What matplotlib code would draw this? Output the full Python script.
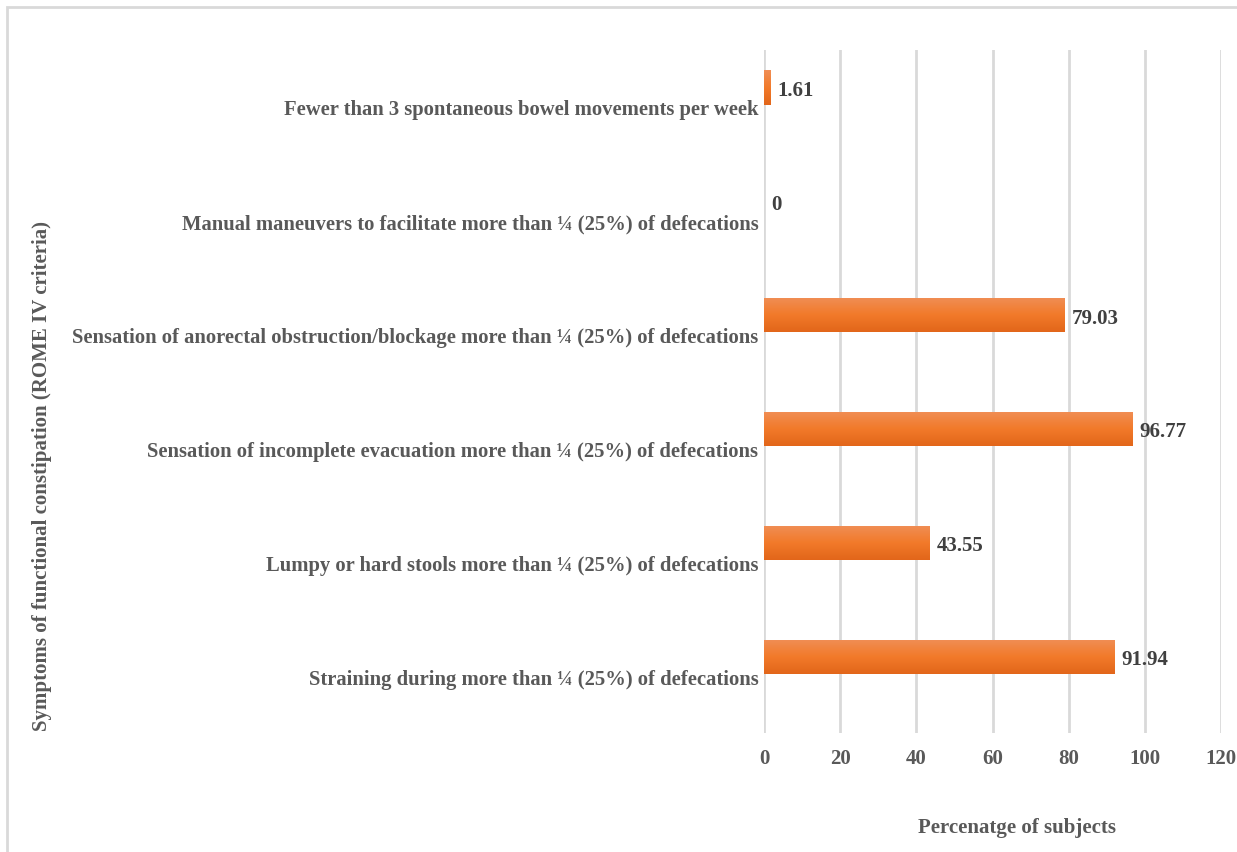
import matplotlib.pyplot as plt
import numpy as np
from matplotlib.patches import Rectangle
from matplotlib.colors import LinearSegmentedColormap

# data (bottom to top)
categories = [
    "Straining during more than ¼ (25%) of defecations",
    "Lumpy or hard stools more than ¼ (25%) of defecations",
    "Sensation of incomplete evacuation more than ¼ (25%) of defecations",
    "Sensation of anorectal obstruction/blockage more than ¼ (25%) of defecations",
    "Manual maneuvers to facilitate more than ¼ (25%) of defecations",
    "Fewer than 3 spontaneous bowel movements per week",
]
values = [91.94, 43.55, 96.77, 79.03, 0, 1.61]
value_labels = ["91.94", "43.55", "96.77", "79.03", "0", "1.61"]
x_ticks = [0, 20, 40, 60, 80, 100, 120]

plt.rcParams['font.family'] = ['Liberation Serif', 'DejaVu Serif']
plt.rcParams['font.weight'] = 'bold'

W, H = 1237, 853
fig = plt.figure(figsize=(W / 100, H / 100), dpi=100)
ax = fig.add_axes([764 / W, 1 - 734 / H, (1221 - 764) / W, (734 - 51) / H])

pos = np.arange(len(categories))
offset = 0.17
bars = ax.barh(pos + offset, values, height=0.30, color='#ED7D31', zorder=2)

# gradient fill on each bar
grad = np.linspace(0, 1, 64).reshape(-1, 1)
cmap = LinearSegmentedColormap.from_list('o', ['#e2661a', '#f27a2a', '#f08e55'])
for b in bars:
    if b.get_width() <= 0:
        continue
    im = ax.imshow(grad, cmap=cmap, aspect='auto', origin='lower',
                   extent=[b.get_x(), b.get_x() + b.get_width(),
                           b.get_y(), b.get_y() + b.get_height()], zorder=3)
    im.set_clip_path(b)

for b, lab in zip(bars, value_labels):
    ax.text(b.get_width() + 1.8, b.get_y() + b.get_height() / 2 - 0.02, lab,
            va='center', ha='left', fontsize=15, color='#404040', fontweight='bold')

ax.set_xlim(0, 120)
ax.set_ylim(-0.5, len(categories) - 0.5)
ax.set_xticks(x_ticks)
ax.set_yticks(pos)
ax.set_yticklabels(categories)
ax.tick_params(axis='x', length=0, pad=11, labelsize=15, labelcolor='#595959')
ax.tick_params(axis='y', length=0, pad=4, labelsize=14.9, labelcolor='#595959')
ax.grid(axis='x', color='#d9d9d9', linewidth=2, zorder=0)
ax.set_axisbelow(True)
for s in ax.spines.values():
    s.set_visible(False)

fig.text(1017 / W, 1 - 828 / H, "Percenatge of subjects", ha='center', va='center',
         fontsize=15, color='#595959', fontweight='bold')
fig.text(42 / W, 1 - 476 / H, "Symptoms of functional constipation (ROME IV criteria)",
         ha='center', va='center', rotation=90, fontsize=15, color='#595959',
         fontweight='bold')

# outer chart border
fig.patches.append(Rectangle((7 / W, -0.01), 1.0, 1 - 8 / H + 0.01, transform=fig.transFigure,
                             fill=False, edgecolor='#d9d9d9', linewidth=2))

fig.savefig('out.png', dpi=100)
